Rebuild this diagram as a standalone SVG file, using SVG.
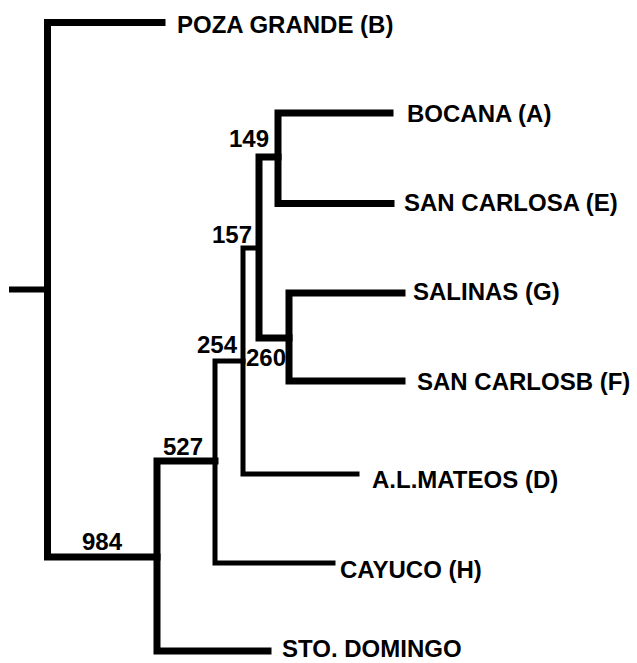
<svg xmlns="http://www.w3.org/2000/svg" width="637" height="663" viewBox="0 0 637 663">
<style>
.e{stroke:#000;stroke-width:7;fill:none;stroke-linecap:square;stroke-linejoin:miter}
.t{stroke-width:5}
.lbl{font-family:"Liberation Sans",Arial,sans-serif;font-weight:bold;font-size:24px;fill:#000}
</style>
<rect width="637" height="663" fill="#fff"/>
<g id="connectors">
<path class="e" d="M12 289.5H44" stroke="#222" style="stroke-width:6"/>
<path class="e" d="M162 22.5H47.5V557H157"/>
<path class="e" d="M268 651H157V461H215"/>
<path class="e t" d="M333 563H215V361H243"/>
<path class="e t" d="M357 474H243V248H259"/>
<path class="e" d="M289 338H259V157H278"/>
<path class="e" d="M390 113H278V203.5H391"/>
<path class="e" d="M402 293H289V381H402"/>
</g>
<g id="leaf-B"><text class="lbl" x="177" y="33">POZA GRANDE (B)</text></g>
<g id="leaf-A"><text class="lbl" x="407" y="122">BOCANA (A)</text></g>
<g id="leaf-E"><text class="lbl" x="404" y="211">SAN CARLOSA (E)</text></g>
<g id="leaf-G"><text class="lbl" x="413" y="300">SALINAS (G)</text></g>
<g id="leaf-F"><text class="lbl" x="417" y="390">SAN CARLOSB (F)</text></g>
<g id="leaf-D"><text class="lbl" x="372" y="488">A.L.MATEOS (D)</text></g>
<g id="leaf-H"><text class="lbl" x="340" y="578">CAYUCO (H)</text></g>
<g id="leaf-SD"><text class="lbl" x="282" y="657">STO. DOMINGO</text></g>
<g id="node-149"><text class="lbl" x="229" y="147">149</text></g>
<g id="node-157"><text class="lbl" x="212" y="243">157</text></g>
<g id="node-254"><text class="lbl" x="197" y="353">254</text></g>
<g id="node-260"><text class="lbl" x="246" y="366">260</text></g>
<g id="node-527"><text class="lbl" x="163" y="455">527</text></g>
<g id="node-984"><text class="lbl" x="82" y="550">984</text></g>
</svg>
